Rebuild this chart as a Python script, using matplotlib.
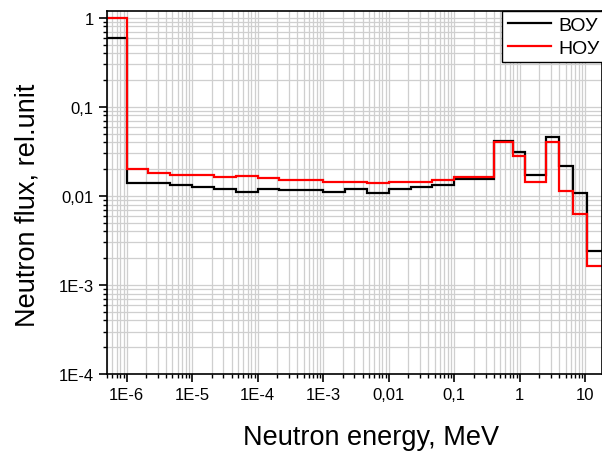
import matplotlib
matplotlib.use('Agg')
import matplotlib.pyplot as plt
import numpy as np
from matplotlib.ticker import FixedLocator, FixedFormatter, LogLocator, NullFormatter

# group boundaries, MeV
edges = [1e-7, 1e-6, 2.15e-6, 4.64e-6, 1e-5, 2.15e-5, 4.64e-5, 1e-4, 2.15e-4, 4.64e-4,
         1e-3, 2.15e-3, 4.64e-3, 1e-2, 2.15e-2, 4.64e-2, 0.1, 0.4, 0.8, 1.2, 2.5, 4.0,
         6.5, 10.5, 20.0]

flux_voy = [0.60, 0.0138, 0.0140, 0.0133, 0.0126, 0.0119, 0.0111, 0.0119, 0.0115, 0.0116,
            0.0111, 0.0121, 0.0108, 0.0118, 0.0126, 0.0132, 0.0154, 0.0415, 0.0312, 0.0172,
            0.046, 0.0217, 0.0109, 0.0024]
flux_noy = [1.0, 0.0199, 0.0179, 0.0171, 0.0172, 0.0161, 0.0168, 0.0159, 0.0151, 0.0150,
            0.0144, 0.0144, 0.0139, 0.0145, 0.0143, 0.0149, 0.0164, 0.0398, 0.0277, 0.0145,
            0.0398, 0.0114, 0.0062, 0.00163]

series_names = ['ВОУ', 'НОУ']

xticks = [1e-6, 1e-5, 1e-4, 1e-3, 1e-2, 0.1, 1, 10]
xlabels = ['1E-6', '1E-5', '1E-4', '1E-3', '0,01', '0,1', '1', '10']
yticks = [1e-4, 1e-3, 1e-2, 0.1, 1]
ylabels = ['1E-4', '1E-3', '0,01', '0,1', '1']

plt.rcParams['font.family'] = ['Liberation Sans', 'DejaVu Sans']

fig = plt.figure(figsize=(6.02, 4.56), dpi=100)
ax = fig.add_axes([0.1777, 0.1776, 0.8223, 0.7967])

ax.stairs(flux_voy, edges, baseline=None, color='black', lw=1.6, label=series_names[0])
ax.stairs(flux_noy, edges, baseline=None, color='red', lw=1.6, label=series_names[1])

ax.set_xscale('log')
ax.set_yscale('log')
ax.set_xlim(5e-7, 18)
ax.set_ylim(1e-4, 1.2)

ax.xaxis.set_major_locator(FixedLocator(xticks))
ax.xaxis.set_major_formatter(FixedFormatter(xlabels))
ax.xaxis.set_minor_locator(LogLocator(base=10, subs=np.arange(2, 10), numticks=30))
ax.xaxis.set_minor_formatter(NullFormatter())
ax.yaxis.set_major_locator(FixedLocator(yticks))
ax.yaxis.set_major_formatter(FixedFormatter(ylabels))
ax.yaxis.set_minor_locator(LogLocator(base=10, subs=np.arange(2, 10), numticks=30))
ax.yaxis.set_minor_formatter(NullFormatter())

ax.grid(which='both', color='#cfcfcf', lw=0.9)
ax.set_axisbelow(True)
ax.tick_params(which='major', length=6, width=1.2, labelsize=12, direction='out')
ax.tick_params(which='minor', length=3, width=1.0, direction='out')
for s in ax.spines.values():
    s.set_linewidth(1.2)

ax.set_xlabel('Neutron energy, MeV', fontsize=19.5, labelpad=16)
ax.set_ylabel('Neutron flux, rel.unit', fontsize=19.5, labelpad=13)
ax.xaxis.label.set_x(0.533)
ax.yaxis.label.set_y(0.468)

leg = ax.legend(loc='upper right', bbox_to_anchor=(1.006, 1.0), fontsize=14,
                fancybox=False, edgecolor='black', framealpha=1, borderaxespad=0.0,
                handlelength=2.2, handletextpad=0.35, borderpad=0.3, labelspacing=0.25)
leg.get_frame().set_linewidth(1.0)

fig.savefig('out.png', dpi=100)
